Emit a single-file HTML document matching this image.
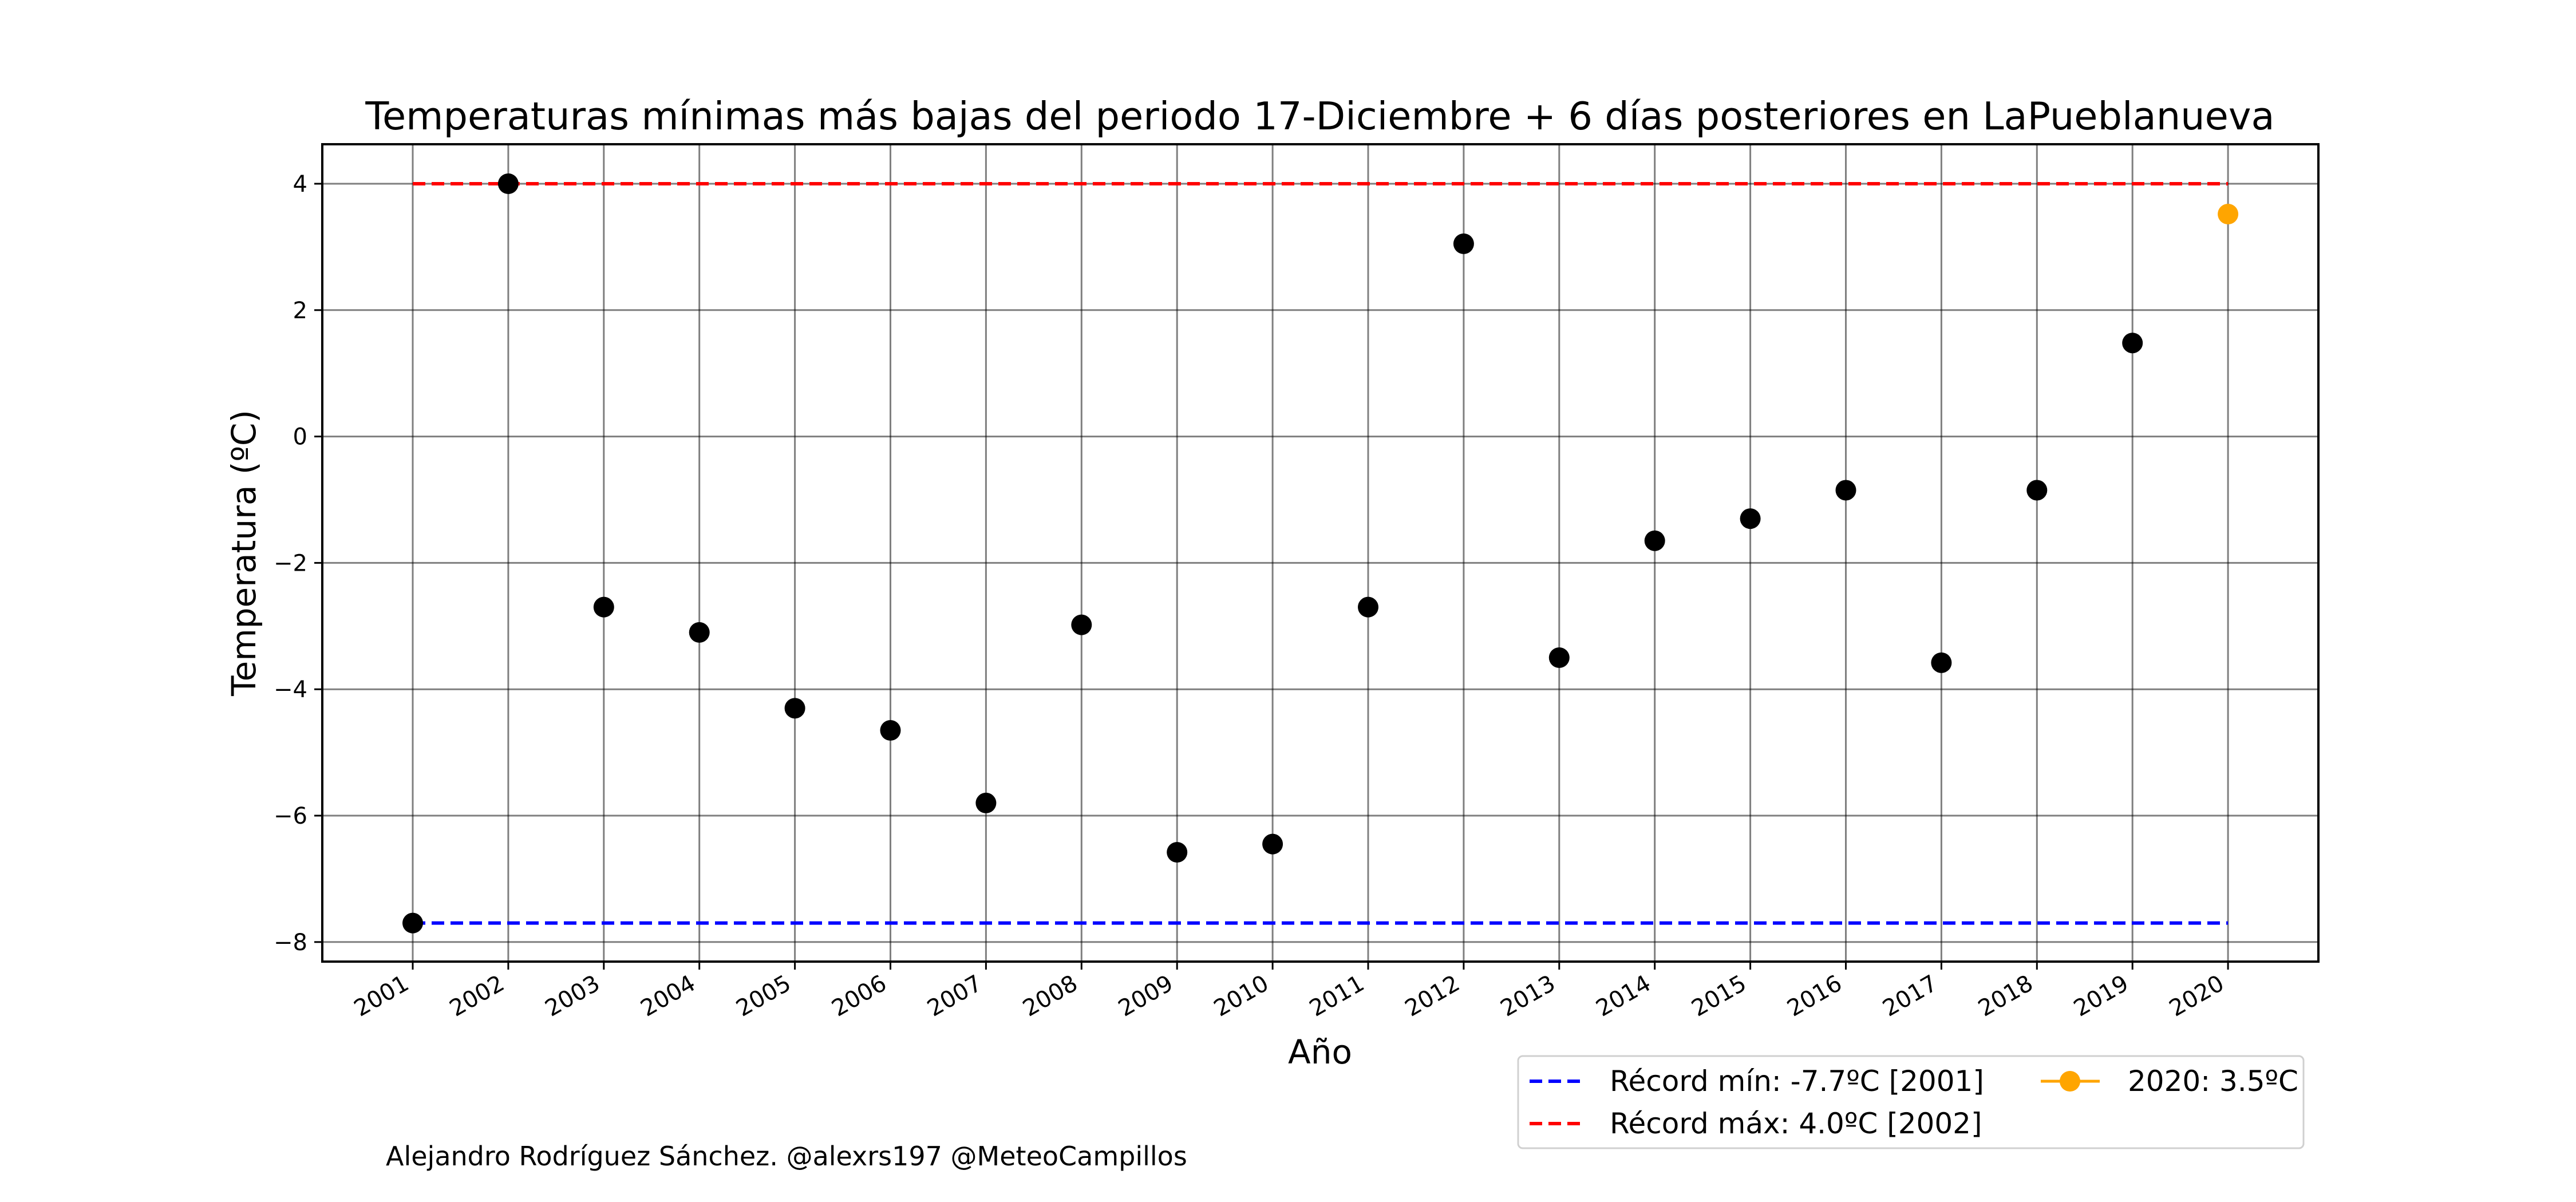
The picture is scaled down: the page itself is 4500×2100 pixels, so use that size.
<!DOCTYPE html>
<html><head><meta charset="utf-8"><style>
html,body{margin:0;padding:0;background:#fff;}
svg{display:block;font-family:"DejaVu Sans","Liberation Sans",sans-serif;}
</style></head><body>
<svg id="chart" width="4500" height="2100" viewBox="0 0 4500 2100" xmlns="http://www.w3.org/2000/svg">
<rect width="4500" height="2100" fill="#fff"/>
<g id="plot"></g>
</svg>
<script>
const years=[2001,2002,2003,2004,2005,2006,2007,2008,2009,2010,2011,2012,2013,2014,2015,2016,2017,2018,2019];
const temps=[-7.7,4.0,-2.7,-3.1,-4.3,-4.65,-5.8,-2.98,-6.58,-6.45,-2.7,3.05,-3.5,-1.65,-1.3,-0.85,-3.58,-0.85,1.48];
const currentYear=[2020];
const currentTemp=[3.52];
const yTicks=[4,2,0,-2,-4,-6,-8];
const tickYears=[2001,2002,2003,2004,2005,2006,2007,2008,2009,2010,2011,2012,2013,2014,2015,2016,2017,2018,2019,2020];
const recordMin=[-7.7];
const recordMax=[4.0];

const L=563,R=4050,T=252,B=1680;
const x=v=>721+(v-2001)*166.9;
const y=v=>321+(4-v)*110.4;
const NS="http://www.w3.org/2000/svg";
const g=document.getElementById('plot');
function mk(tag,attrs,text){const e=document.createElementNS(NS,tag);for(const k in attrs)e.setAttribute(k,attrs[k]);if(text!==undefined)e.textContent=text;g.appendChild(e);return e;}

tickYears.forEach(v=>{
  const e=mk('line',{x1:x(v),x2:x(v),y1:T,y2:B,stroke:'#000','stroke-opacity':0.5,'stroke-width':3});
  
  
  const t=mk('line',{x1:x(v),x2:x(v),y1:B,y2:B+14,stroke:'#000','stroke-width':3});
  
  
  const lb=mk('text',{x:x(v)-4,y:B+46,'font-size':40,'text-anchor':'end',transform:`rotate(-30 ${x(v)-4} ${B+46})`},String(v));
  
  
});
yTicks.forEach(v=>{
  const e=mk('line',{x1:L,x2:R,y1:y(v),y2:y(v),stroke:'#000','stroke-opacity':0.5,'stroke-width':3});
  
  
  const t=mk('line',{x1:L-14,x2:L,y1:y(v),y2:y(v),stroke:'#000','stroke-width':3});
  
  
  const lb=mk('text',{x:L-26,y:y(v)+14,'font-size':40,'text-anchor':'end'},(v<0?'\u2212':'')+Math.abs(v));
  
  
});
const rmin=mk('line',{x1:x(2001),x2:x(2020),y1:y(recordMin[0]),y2:y(recordMin[0]),stroke:'#0000ff','stroke-width':6,'stroke-dasharray':'22 11'});


const rmax=mk('line',{x1:x(2001),x2:x(2020),y1:y(recordMax[0]),y2:y(recordMax[0]),stroke:'#ff0000','stroke-width':6,'stroke-dasharray':'22 11'});


years.forEach((yr,i)=>{
  const c=mk('circle',{cx:x(yr),cy:y(temps[i]),r:18,fill:'#000'});
  
  
});
currentYear.forEach((yr,i)=>{
  const c=mk('circle',{cx:x(yr),cy:y(currentTemp[i]),r:18,fill:'#ffa500'});
  
  
});
const fr=mk('rect',{x:L,y:T,width:R-L,height:B-T,fill:'none',stroke:'#000','stroke-width':4});


</script>
<svg width="4500" height="2100" style="position:absolute;left:0;top:0" xmlns="http://www.w3.org/2000/svg" font-family="DejaVu Sans, Liberation Sans, sans-serif">
<text x="2306" y="226" font-size="67" text-anchor="middle">Temperaturas mínimas más bajas del periodo 17-Diciembre + 6 días posteriores en LaPueblanueva</text>
<text x="446" y="966" font-size="58" text-anchor="middle" transform="rotate(-90 446 966)">Temperatura (ºC)</text>
<text x="2306" y="1858" font-size="58" text-anchor="middle">Año</text>
<text x="674" y="2036" font-size="46">Alejandro Rodríguez Sánchez. @alexrs197 @MeteoCampillos</text>
<g>
<rect x="2652" y="1845" width="1372" height="161" rx="8" fill="#fff" stroke="#d0d0d0" stroke-width="3"/>
<line x1="2672" x2="2762" y1="1889" y2="1889" stroke="#0000ff" stroke-width="6" stroke-dasharray="22 11"/>
<text x="2812" y="1906" font-size="50">Récord mín: -7.7ºC [2001]</text>
<line x1="2672" x2="2762" y1="1963" y2="1963" stroke="#ff0000" stroke-width="6" stroke-dasharray="22 11"/>
<text x="2812" y="1980" font-size="50">Récord máx: 4.0ºC [2002]</text>
<line x1="3565" x2="3668" y1="1889" y2="1889" stroke="#ffa500" stroke-width="5"/>
<circle cx="3616" cy="1889" r="18" fill="#ffa500"/>
<text x="3717" y="1906" font-size="50">2020: 3.5ºC</text>
</g>
</svg>
</body></html>
